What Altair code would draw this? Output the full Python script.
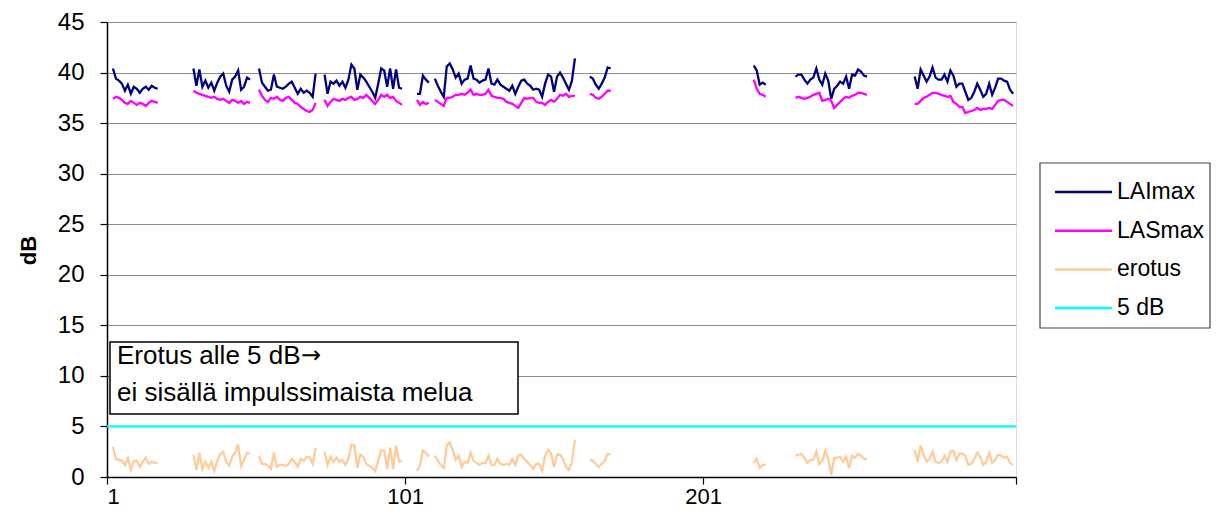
import altair as alt
import pandas as pd

SEG_START = [3, 30, 52, 74, 105, 111, 163, 218, 232, 272]

LAIMAX = [
    [40.4, 39.4, 39.2, 38.9, 38.2, 38.8, 37.9, 38.6, 38.4, 38.0, 38.4, 38.6, 38.3, 38.7, 38.5, 38.4],
    [40.4, 38.7, 40.3, 38.6, 39.2, 38.5, 39.0, 38.2, 39.0, 39.6, 39.9, 38.7, 38.1, 39.3, 39.6, 40.2, 38.3, 38.6, 39.5, 39.3],
    [40.4, 39.0, 38.6, 38.2, 38.3, 39.8, 38.6, 38.5, 38.4, 38.6, 38.9, 39.1, 38.5, 37.9, 38.4, 38.0, 38.2, 38.0, 37.6, 39.9],
    [39.8, 37.9, 39.1, 38.9, 39.2, 38.7, 39.1, 38.5, 39.3, 40.8, 40.4, 38.3, 39.8, 39.5, 39.1, 38.6, 38.1, 37.5, 38.9, 40.4,
     40.2, 38.6, 40.4, 38.4, 40.3, 38.5, 38.4],
    [37.9, 37.9, 39.7, 39.3, 39.0],
    [39.4, 38.7, 38.1, 37.6, 40.6, 40.9, 40.3, 39.5, 39.9, 38.9, 39.3, 39.4, 40.7, 39.4, 39.3, 39.0, 39.2, 39.3, 40.4, 38.9,
     38.8, 39.3, 38.8, 38.6, 38.4, 38.2, 38.7, 37.9, 38.6, 39.2, 39.3, 38.9, 38.7, 38.3, 38.4, 38.3, 37.6, 38.9, 39.8, 39.6,
     38.1, 39.6, 40.0, 39.5, 38.9, 38.3, 39.2, 41.4],
    [39.6, 39.4, 38.8, 38.4, 38.9, 39.5, 40.5, 40.4],
    [40.7, 40.2, 38.8, 39.0, 38.8],
    [39.6, 39.8, 39.8, 39.3, 38.9, 39.3, 39.5, 40.4, 39.3, 38.8, 39.9, 39.2, 37.4, 38.4, 38.7, 39.1, 38.9, 39.6, 38.4, 39.8,
     39.7, 40.3, 40.1, 39.7, 39.6],
    [39.6, 38.4, 40.3, 39.7, 39.1, 39.6, 40.5, 39.5, 39.3, 39.3, 39.8, 39.1, 40.2, 39.7, 38.6, 38.9, 38.9, 38.1, 37.3, 37.5,
     38.1, 38.9, 38.3, 37.6, 37.9, 38.9, 37.8, 38.5, 39.4, 39.4, 39.2, 39.1, 38.3, 37.9],
]

LASMAX = [
    [37.4, 37.6, 37.5, 37.3, 37.0, 36.9, 37.2, 37.0, 36.8, 37.0, 36.9, 36.7, 37.0, 37.2, 37.1, 37.0],
    [38.2, 38.0, 37.9, 37.8, 37.7, 37.6, 37.5, 37.6, 37.4, 37.3, 37.4, 37.2, 37.0, 37.3, 37.2, 37.0, 37.2, 36.9, 37.1, 37.0],
    [38.3, 37.7, 37.3, 37.1, 37.5, 37.4, 37.6, 37.3, 37.2, 37.5, 37.6, 37.3, 37.0, 36.9, 36.6, 36.4, 36.2, 36.1, 36.3, 37.0],
    [37.3, 36.7, 37.1, 37.4, 37.3, 37.2, 37.4, 37.3, 37.5, 37.6, 37.3, 37.4, 37.6, 37.5, 37.8, 37.5, 37.2, 36.9, 37.3, 37.8,
     37.6, 37.8, 37.5, 37.6, 37.2, 37.0, 36.8],
    [37.3, 36.8, 37.1, 36.9, 37.0],
    [37.3, 37.1, 36.9, 36.7, 37.5, 37.5, 37.6, 37.8, 37.8, 37.9, 37.8, 38.0, 38.3, 37.8, 37.9, 37.8, 37.8, 37.9, 38.3, 37.7,
     37.6, 37.5, 37.5, 37.4, 37.1, 37.0, 36.9, 36.7, 36.5, 37.0, 37.5, 37.4, 37.5, 37.5, 37.1, 37.0, 37.0, 36.8, 37.1, 37.3,
     37.1, 37.4, 37.8, 37.7, 37.9, 37.6, 37.7, 37.7],
    [37.9, 37.8, 37.5, 37.4, 37.6, 37.9, 38.2, 38.2],
    [39.3, 38.4, 37.9, 37.8, 37.6],
    [37.5, 37.6, 37.5, 37.4, 37.5, 37.6, 37.8, 37.9, 38.0, 37.2, 37.3, 37.4, 37.2, 36.5, 36.8, 37.1, 37.4, 37.6, 37.5, 37.7,
     37.8, 38.0, 38.0, 37.9, 37.8],
    [36.9, 36.9, 37.2, 37.5, 37.6, 37.8, 38.0, 38.0, 37.9, 37.8, 37.7, 37.6, 37.7, 37.1, 36.9, 36.6, 36.6, 36.0, 36.1, 36.2,
     36.3, 36.5, 36.3, 36.4, 36.4, 36.5, 36.4, 36.8, 37.2, 37.3, 37.3, 37.1, 36.9, 36.7],
]

EROTUS = [
    [3.0, 1.8, 1.7, 1.6, 1.2, 1.9, 0.7, 1.6, 1.6, 1.0, 1.5, 1.9, 1.3, 1.5, 1.4, 1.4],
    [2.2, 0.7, 2.4, 0.8, 1.5, 0.9, 1.5, 0.6, 1.6, 2.3, 2.5, 1.5, 1.1, 2.0, 2.4, 3.2, 1.1, 1.7, 2.4, 2.3],
    [2.1, 1.3, 1.3, 1.1, 0.8, 2.4, 1.0, 1.2, 1.2, 1.1, 1.3, 1.8, 1.5, 1.0, 1.8, 1.6, 2.0, 1.9, 1.3, 2.9],
    [2.5, 1.2, 2.0, 1.5, 1.9, 1.5, 1.7, 1.2, 1.8, 3.2, 3.1, 0.9, 2.2, 2.0, 1.3, 1.1, 0.9, 0.6, 1.6, 2.6,
     2.6, 0.8, 2.9, 0.8, 3.1, 1.5, 1.6],
    [0.6, 1.1, 2.6, 2.4, 2.0],
    [2.1, 1.6, 1.2, 0.9, 3.1, 3.4, 2.7, 1.7, 2.1, 1.0, 1.5, 1.4, 2.4, 1.6, 1.4, 1.2, 1.4, 1.4, 2.1, 1.2,
     1.2, 1.8, 1.3, 1.2, 1.3, 1.2, 1.8, 1.2, 2.1, 2.2, 1.8, 1.5, 1.2, 0.8, 1.3, 1.3, 0.6, 2.1, 2.7, 2.3,
     1.0, 2.2, 2.2, 1.8, 1.0, 0.7, 1.5, 3.7],
    [1.7, 1.6, 1.3, 1.0, 1.3, 1.6, 2.3, 2.2],
    [1.4, 1.8, 0.9, 1.2, 1.2],
    [2.1, 2.2, 2.3, 1.9, 1.4, 1.7, 1.7, 2.5, 1.3, 1.6, 2.6, 1.8, 0.2, 1.9, 1.9, 2.0, 1.5, 2.0, 0.9, 2.1,
     1.9, 2.3, 2.1, 1.8, 1.8],
    [2.7, 1.5, 3.1, 2.2, 1.5, 1.8, 2.5, 1.5, 1.4, 1.5, 2.1, 1.5, 2.5, 2.6, 1.7, 2.3, 2.3, 2.1, 1.2, 1.3,
     1.8, 2.4, 2.0, 1.2, 1.5, 2.4, 1.4, 1.7, 2.2, 2.1, 1.9, 2.0, 1.4, 1.2],
]

LIMIT_DB = 5
SERIES = ["LAImax", "LASmax", "erotus", "5 dB"]
COLORS = ["#000080", "#FF00FF", "#FFCC99", "#00FFFF"]
X_MAX = 306
X_TICKS = [1, 101, 201, X_MAX]
Y_TICKS = list(range(0, 46, 5))
NOTE = ["Erotus alle 5 dB", "\u2192", "ei sis\u00e4ll\u00e4 impulssimaista melua"]

rows = []
for name, segs in [("LAImax", LAIMAX), ("LASmax", LASMAX), ("erotus", EROTUS)]:
    for s, (start, vals) in enumerate(zip(SEG_START, segs)):
        for k, v in enumerate(vals):
            rows.append({"i": start + k, "value": v, "series": name, "seg": f"{name}-{s}"})
df = pd.DataFrame(rows)

FONT = "Liberation Sans"

x_scale = alt.Scale(domain=[1, X_MAX], nice=False, zero=False)
y_scale = alt.Scale(domain=[0, 45], nice=False)

x_axis = alt.Axis(values=X_TICKS, grid=False, labelExpr=f"datum.value == {X_MAX} ? '' : datum.label",
                  tickSize=7, tickColor="#000", tickWidth=1.2, domainColor="#000", domainWidth=1.5,
                  labelFont=FONT, labelFontSize=22, labelColor="#000", labelPadding=2, title=None)
y_axis = alt.Axis(values=Y_TICKS, grid=True, gridColor="#8c8c8c", gridWidth=1,
                  tickSize=7, tickColor="#000", tickWidth=1.2, domainColor="#000", domainWidth=1.5,
                  labelFont=FONT, labelFontSize=24, labelColor="#000", labelPadding=16,
                  title="dB", titleFont=FONT, titleFontSize=22, titleFontWeight="bold",
                  titleColor="#000", titleX=-79, titleY=228, titleAngle=270, titleAlign="center",
                  titleBaseline="middle")

color = alt.Color("series:N", scale=alt.Scale(domain=SERIES, range=COLORS), legend=None)

lines = alt.Chart(df).mark_line(strokeWidth=2.3, clip=True).encode(
    x=alt.X("i:Q", scale=x_scale, axis=x_axis),
    y=alt.Y("value:Q", scale=y_scale, axis=y_axis),
    color=color,
    detail="seg:N",
)

limit = alt.Chart(pd.DataFrame({"value": [LIMIT_DB]})).mark_rule(color=COLORS[3], strokeWidth=2.2).encode(
    y=alt.Y("value:Q", scale=y_scale)
)

# annotation box
one = pd.DataFrame({"a": [0]})
box = alt.Chart(one).mark_rect(fill="white", stroke="black", strokeWidth=1.5).encode(
    x=alt.value(3), x2=alt.value(411), y=alt.value(320), y2=alt.value(392)
)
note1 = alt.Chart(one).mark_text(
    text=NOTE[0], align="left", baseline="middle", font=FONT, fontSize=26, color="black"
).encode(x=alt.value(10), y=alt.value(334))
arrow = alt.Chart(one).mark_text(
    text=NOTE[1], align="left", baseline="middle", font="DejaVu Sans", fontSize=24, color="black"
).encode(x=alt.value(194), y=alt.value(334))
note2 = alt.Chart(one).mark_text(
    text=NOTE[2], align="left", baseline="middle", font=FONT, fontSize=26, color="black"
).encode(x=alt.value(10), y=alt.value(371))

# legend drawn manually
leg_box = alt.Chart(one).mark_rect(fill="white", stroke="#444", strokeWidth=1.2).encode(
    x=alt.value(933), x2=alt.value(1103), y=alt.value(141), y2=alt.value(306)
)
leg_layers = [leg_box]
for k, (name, col) in enumerate(zip(SERIES, COLORS)):
    yy = 170 + k * 38.7
    leg_layers.append(
        alt.Chart(one).mark_rule(color=col, strokeWidth=2.5).encode(
            x=alt.value(948), x2=alt.value(1005), y=alt.value(yy)
        )
    )
    leg_layers.append(
        alt.Chart(one).mark_text(
            text=name, align="left", baseline="middle", font=FONT, fontSize=23, color="black"
        ).encode(x=alt.value(1010), y=alt.value(yy))
    )

chart = alt.layer(limit, lines, box, note1, arrow, note2, *leg_layers).properties(
    width=909, height=455,
    autosize=alt.AutoSizeParams(type="none"),
    padding={"left": 99, "top": 14, "right": 195, "bottom": 34},
).configure_view(stroke="#808080", strokeWidth=1.5).configure(background="white")

chart.save("out.html", embed_options={"renderer": "svg", "actions": False})
